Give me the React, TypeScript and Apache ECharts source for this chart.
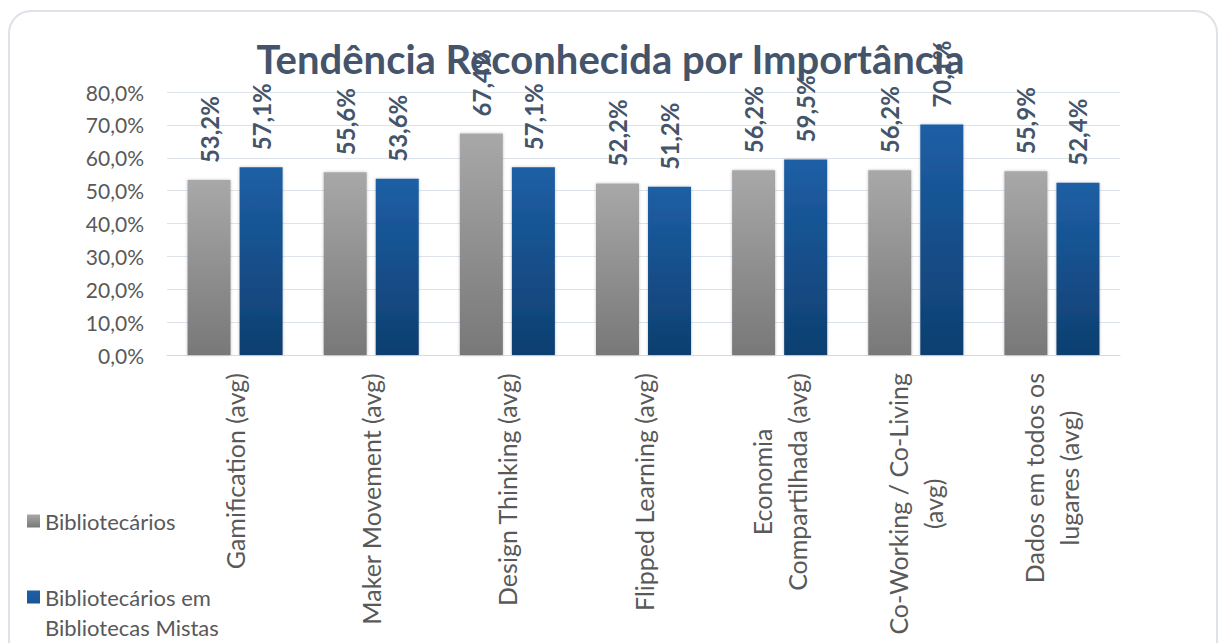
import React, { useEffect, useRef } from "react";
import * as echarts from "echarts";

const categories = [
  "Gamification (avg)",
  "Maker Movement (avg)",
  "Design Thinking (avg)",
  "Flipped Learning (avg)",
  "Economia\nCompartilhada (avg)",
  "Co-Working / Co-Living\n(avg)",
  "Dados em todos os\nlugares (avg)",
];
const seriesNames = ["Bibliotecários", "Bibliotecários em Bibliotecas Mistas"];
const bibliotecarios = [53.2, 55.6, 67.4, 52.2, 56.2, 56.2, 55.9];
const bibliotecasMistas = [57.1, 53.6, 57.1, 51.2, 59.5, 70.1, 52.4];
const yTicks = { min: 0, max: 80, interval: 10 };
const title = "Tendência Reconhecida por Importância";

const FONT = "Lato, 'Open Sans', sans-serif";
const fmtPct = (v: number) => v.toFixed(1).replace(".", ",") + "%";

export default function App() {
  const ref = useRef<HTMLDivElement>(null);
  useEffect(() => {
    if (!ref.current) return;
    const chart = echarts.init(ref.current, null, { renderer: "svg" });
    const grayGrad = new echarts.graphic.LinearGradient(0, 0, 0, 1, [
      { offset: 0, color: "#a8a8a8" },
      { offset: 1, color: "#787878" },
    ]);
    const blueGrad = new echarts.graphic.LinearGradient(0, 0, 0, 1, [
      { offset: 0, color: "#1d5fa5" },
      { offset: 1, color: "#0e3f70" },
    ]);
    const labelOpt = {
      show: true,
      position: "top",
      rotate: 90,
      align: "left",
      verticalAlign: "middle",
      distance: 17,
      fontFamily: FONT,
      fontWeight: "bold",
      fontSize: 24,
      color: "#44546a",
      formatter: (p: any) => fmtPct(p.value),
    };
    chart.setOption({
      animation: false,
      backgroundColor: "#ffffff",
      title: {
        text: title,
        left: "center",
        top: 34,
        z: 1,
        textStyle: {
          fontFamily: FONT,
          fontWeight: "bold",
          fontSize: 40,
          color: "#44546a",
        },
      },
      graphic: [
        {
          type: "rect",
          z: -1,
          shape: { x: 9, y: 11, width: 1208, height: 680, r: 22 },
          style: { fill: "none", stroke: "#dde2e8", lineWidth: 2 },
        },
      ],
      legend: [
        {
          orient: "vertical",
          left: 22,
          top: 505,
          data: [seriesNames[0]],
          icon: "rect",
          itemWidth: 13,
          itemHeight: 13,
          itemGap: 10,
          textStyle: { fontFamily: FONT, fontSize: 22, color: "#595959" },
        },
        {
          orient: "vertical",
          left: 22,
          top: 577,
          data: [
            {
              name: seriesNames[1],
              icon: "path://M0,0L13,0L13,13L0,13Z M0,43L0.01,43L0,43Z",
            },
          ],
          itemWidth: 13,
          itemHeight: 43,
          formatter: () => "Bibliotecários em\nBibliotecas Mistas",
          textStyle: {
            fontFamily: FONT,
            fontSize: 22,
            color: "#595959",
            lineHeight: 30,
          },
        },
      ],
      grid: {
        left: 167,
        right: 101,
        top: 92,
        bottom: 288,
        containLabel: false,
        outerBoundsMode: "none",
      },
      xAxis: {
        type: "category",
        data: categories,
        axisTick: { show: false },
        axisLine: { lineStyle: { color: "#d9d9d9" } },
        axisLabel: {
          interval: 0,
          rotate: 90,
          margin: 18,
          formatter: (v: string) =>
            v
              .split("\n")
              .map((l) => `{c|${l}}`)
              .join("\n"),
          rich: {
            c: {
              align: "center",
              fontFamily: FONT,
              fontSize: 25,
              color: "#595959",
              lineHeight: 35,
            },
          },
        },
      },
      yAxis: {
        type: "value",
        min: yTicks.min,
        max: yTicks.max,
        interval: yTicks.interval,
        axisLine: { show: false },
        axisTick: { show: false },
        splitLine: { lineStyle: { color: "#dde3ea", width: 1 } },
        axisLabel: {
          margin: 23,
          fontFamily: FONT,
          fontSize: 21,
          color: "#595959",
          formatter: (v: number) => fmtPct(v),
        },
      },
      series: [
        {
          name: seriesNames[0],
          type: "bar",
          data: bibliotecarios,
          barWidth: "31.6%",
          barGap: "21%",
          z: 3,
          itemStyle: {
            color: grayGrad,
            shadowBlur: 3,
            shadowColor: "rgba(0,0,0,0.25)",
          },
          label: labelOpt,
        },
        {
          name: seriesNames[1],
          type: "bar",
          data: bibliotecasMistas,
          barWidth: "31.6%",
          z: 3,
          itemStyle: {
            color: blueGrad,
            shadowBlur: 3,
            shadowColor: "rgba(0,0,0,0.25)",
          },
          label: labelOpt,
        },
      ],
    });
    return () => chart.dispose();
  }, []);
  return (
    <div
      ref={ref}
      style={{ position: "absolute", left: 0, top: 0, width: 1221, height: 643 }}
    />
  );
}
